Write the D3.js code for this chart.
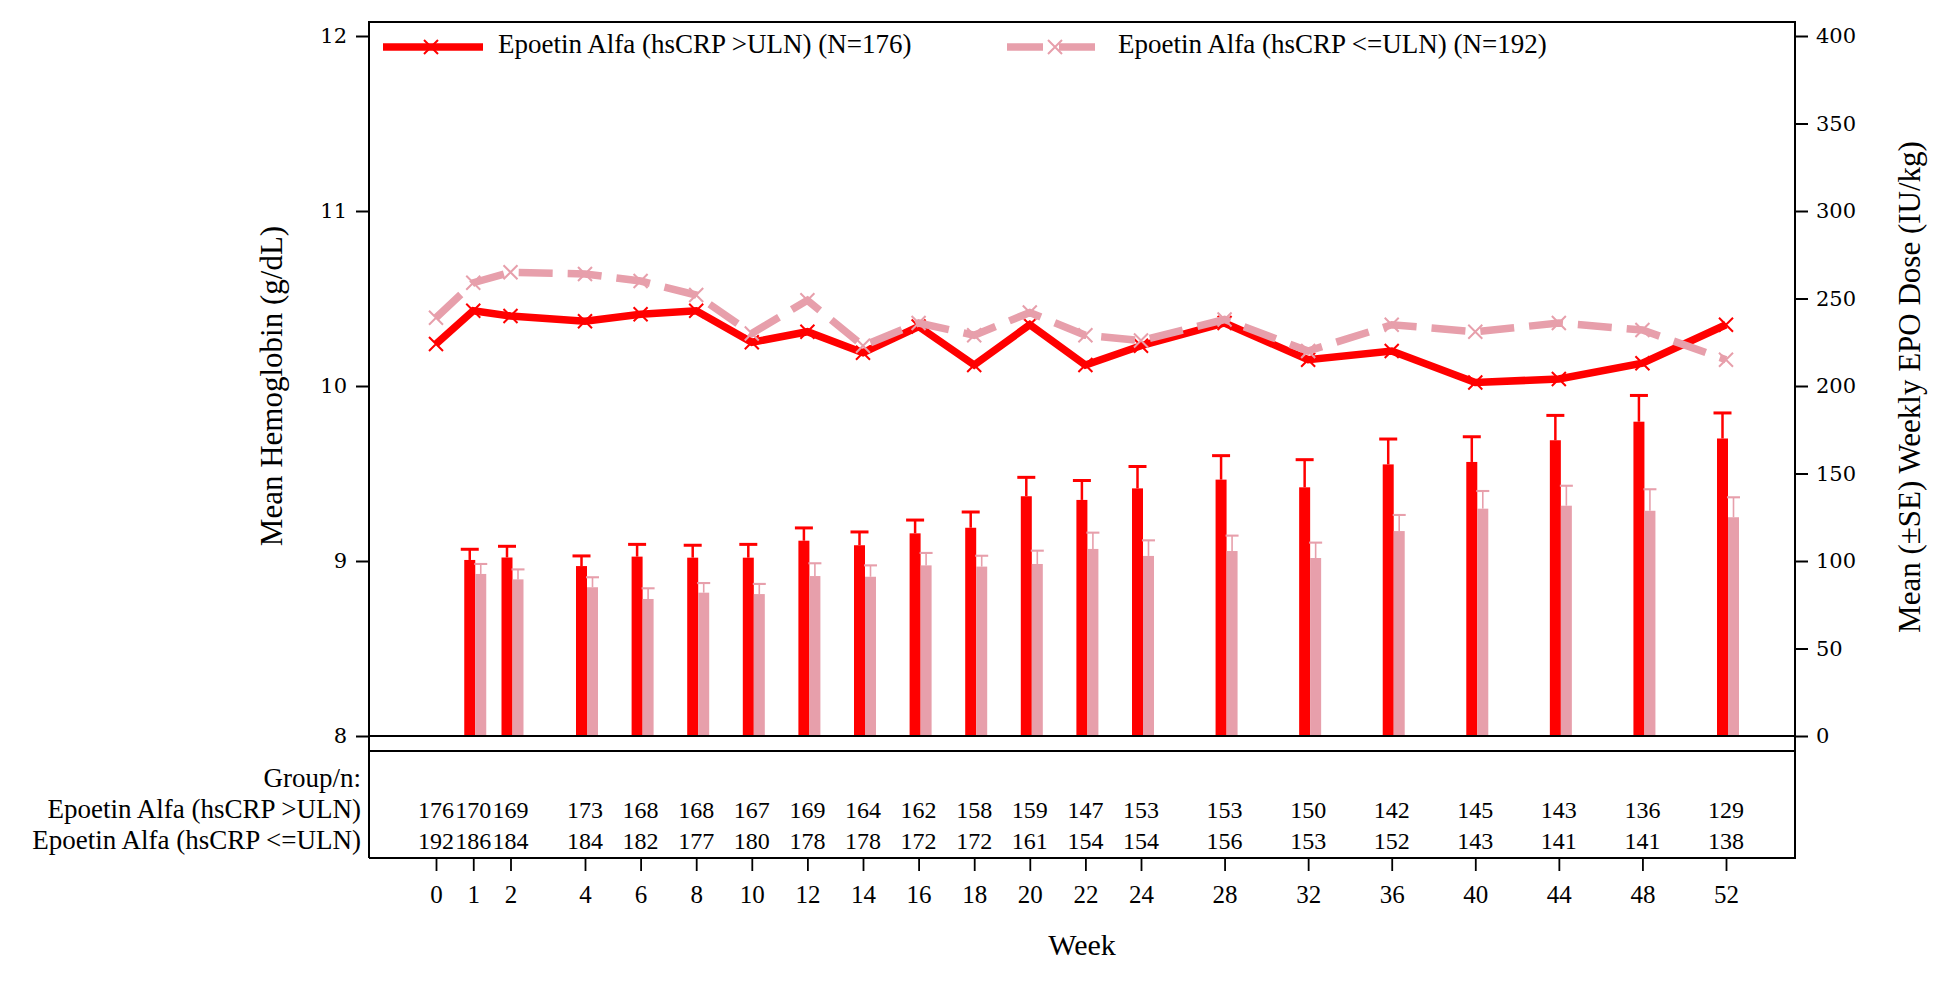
<!DOCTYPE html>
<html>
<head>
<meta charset="utf-8">
<script src="https://cdn.jsdelivr.net/npm/d3@7"></script>
<style>
  body { margin: 0; background: #fff; }
  svg text { font-family: "Liberation Serif", Tinos, "Times New Roman", "DejaVu Serif", "Noto Serif", serif; fill: #000; }
  svg .num text, svg text.num { font-family: "DejaVu Serif", "Liberation Serif", serif; }
</style>
</head>
<body>
<div id="chart"></div>
<script>
// weeks on the x axis
const weeks = [0, 1, 2, 4, 6, 8, 10, 12, 14, 16, 18, 20, 22, 24, 28, 32, 36, 40, 44, 48, 52]

// mean hemoglobin (g/dL), left axis
const hbHigh = [10.24, 10.43, 10.40, 10.37, 10.41, 10.43, 10.25, 10.31, 10.19, 10.34, 10.12, 10.35, 10.12, 10.23, 10.36, 10.15, 10.20, 10.02, 10.04, 10.13, 10.35]
const hbLow = [10.39, 10.59, 10.65, 10.64, 10.60, 10.52, 10.30, 10.49, 10.23, 10.36, 10.29, 10.42, 10.29, 10.26, 10.38, 10.20, 10.35, 10.31, 10.36, 10.32, 10.15]

// mean weekly EPO dose (IU/kg) and SE, right axis
const doseWeeks = [1, 2, 4, 6, 8, 10, 12, 14, 16, 18, 20, 22, 24, 28, 32, 36, 40, 44, 48, 52]
const doseHigh = [100.6, 102, 97.1, 102.5, 101.9, 101.9, 111.6, 109, 115.8, 119, 137, 134.9, 141.5, 146.5, 142.1, 155.2, 156.6, 169, 179.6, 170]
const doseHighSE = [6.1, 6.4, 5.8, 7, 7.1, 7.6, 7.3, 7.6, 7.6, 9, 10.8, 11.1, 12.5, 13.7, 15.8, 14.5, 14.4, 14.2, 15, 14.6]
const doseLow = [92.6, 89.5, 85, 78.3, 81.9, 81.1, 91.4, 91, 97.5, 96.8, 98.3, 106.9, 102.9, 105.7, 101.7, 117.1, 129.9, 131.6, 128.7, 125]
const doseLowSE = [5.7, 5.7, 5.7, 6.1, 5.5, 5.8, 7.3, 6.5, 7.1, 6.2, 7.6, 9.3, 8.9, 8.8, 8.8, 9.2, 10.1, 11.4, 12.3, 11.4]

// patients at risk
const nHigh = [176, 170, 169, 173, 168, 168, 167, 169, 164, 162, 158, 159, 147, 153, 153, 150, 142, 145, 143, 136, 129]
const nLow = [192, 186, 184, 184, 182, 177, 180, 178, 178, 172, 172, 161, 154, 154, 156, 153, 152, 143, 141, 141, 138]

const groups = ["Epoetin Alfa (hsCRP >ULN)", "Epoetin Alfa (hsCRP <=ULN)"]
const groupN = [176, 192]
const hbTicks = [8, 9, 10, 11, 12]
const doseTicks = [0, 50, 100, 150, 200, 250, 300, 350, 400]

const RED = "#ff0000"
const PINK = "#e79fab"
const SERIF = "'Liberation Serif', Tinos, 'Times New Roman', 'DejaVu Serif', serif"
const WIDE_SERIF = "'DejaVu Serif', 'Liberation Serif', serif"

const W = 1950, H = 988
const plotLeft = 369, plotRight = 1795, plotTop = 22, plotBottom = 736, tableTop = 751, tableBottom = 858

const svg = d3.select("#chart").append("svg")
    .attr("width", W)
    .attr("height", H)
    .attr("font-family", SERIF)
svg.append("rect").attr("width", W).attr("height", H).attr("fill", "#fff")

// x axis spacing in the figure is piecewise: wider for weeks 0-4, narrower later
const x = d3.scaleLinear()
    .domain([0, 4, 24, 52])
    .range([436, 585, 1141, 1726])

const yHb = d3.scaleLinear().domain([8, 12]).range([plotBottom, 36])
const yDose = d3.scaleLinear().domain([0, 400]).range([plotBottom, 36])

const offset = d3.scaleBand().domain(["high", "low"]).range([-9, 13])

// bars
const bars = svg.append("g")
const barData = [
    { key: "high", vals: doseHigh, se: doseHighSE, color: RED, cap: 18, sw: 2.5 },
    { key: "low", vals: doseLow, se: doseLowSE, color: PINK, cap: 13, sw: 1.6 }
]
barData.forEach(s => {
    const g = bars.append("g")
    doseWeeks.forEach((w, i) => {
        const x0 = x(w) + offset(s.key)
        const cx = x0 + offset.bandwidth() / 2
        const yTop = yDose(s.vals[i])
        const yErr = yDose(s.vals[i] + s.se[i])
        g.append("rect")
            .attr("x", x0)
            .attr("y", yTop)
            .attr("width", offset.bandwidth())
            .attr("height", plotBottom - yTop)
            .attr("fill", s.color)
        g.append("line")
            .attr("x1", cx).attr("x2", cx)
            .attr("y1", yTop).attr("y2", yErr)
            .attr("stroke", s.color).attr("stroke-width", s.sw)
        g.append("line")
            .attr("x1", cx - s.cap / 2).attr("x2", cx + s.cap / 2)
            .attr("y1", yErr).attr("y2", yErr)
            .attr("stroke", s.color).attr("stroke-width", s.sw + 0.5)
    })
})

// hemoglobin lines
const line = d3.line()
    .x(d => x(d.w))
    .y(d => yHb(d.v))
const xMark = "M-7,-7L7,7M-7,7L7,-7"

const lineData = [
    { vals: hbHigh, color: RED, dash: null },
    { vals: hbLow, color: PINK, dash: "34,15" }
]
lineData.forEach(s => {
    const pts = weeks.map((w, i) => ({ w: w, v: s.vals[i] }))
    svg.append("path")
        .datum(pts)
        .attr("fill", "none")
        .attr("stroke", s.color)
        .attr("stroke-width", 7.5)
        .attr("stroke-dasharray", s.dash)
        .attr("d", line)
    svg.append("g").selectAll("path")
        .data(pts)
        .join("path")
        .attr("transform", d => `translate(${x(d.w)},${yHb(d.v)})`)
        .attr("d", xMark)
        .attr("fill", "none")
        .attr("stroke", s.color)
        .attr("stroke-width", 2)
})

// frame
const frame = svg.append("g").attr("stroke", "#000").attr("stroke-width", 2).attr("fill", "none")
frame.append("path").attr("d", `M${plotLeft},${tableBottom}V${plotTop}H${plotRight}V${tableBottom}H${plotLeft}`)
frame.append("line").attr("x1", plotLeft).attr("x2", plotRight).attr("y1", plotBottom).attr("y2", plotBottom)
frame.append("line").attr("x1", plotLeft).attr("x2", plotRight).attr("y1", tableTop).attr("y2", tableTop)

// left axis
const axL = svg.append("g")
    .attr("transform", `translate(${plotLeft},0)`)
    .call(d3.axisLeft(yHb).tickValues(hbTicks).tickSize(13).tickPadding(9).tickFormat(d3.format("d")))
axL.attr("font-family", WIDE_SERIF).attr("font-size", 21)
axL.select(".domain").remove()
axL.selectAll("line").attr("stroke-width", 2)
axL.selectAll("text").attr("class", "num")

// right axis
const axR = svg.append("g")
    .attr("transform", `translate(${plotRight},0)`)
    .call(d3.axisRight(yDose).tickValues(doseTicks).tickSize(13).tickPadding(8).tickFormat(d3.format("d")))
axR.attr("font-family", WIDE_SERIF).attr("font-size", 21)
axR.select(".domain").remove()
axR.selectAll("line").attr("stroke-width", 2)
axR.selectAll("text").attr("class", "num")

// bottom axis
const axB = svg.append("g")
    .attr("transform", `translate(0,${tableBottom})`)
    .call(d3.axisBottom(x).tickValues(weeks).tickSize(13).tickPadding(14).tickFormat(d3.format("d")))
axB.attr("font-family", SERIF).attr("font-size", 25)
axB.select(".domain").remove()
axB.selectAll("line").attr("stroke-width", 1.8)

// axis titles
svg.append("text")
    .attr("transform", `translate(275,386) rotate(-90)`)
    .attr("text-anchor", "middle")
    .attr("dominant-baseline", "middle")
    .attr("font-size", 31)
    .text("Mean Hemoglobin (g/dL)")
svg.append("text")
    .attr("transform", `translate(1913,387) rotate(-90)`)
    .attr("text-anchor", "middle")
    .attr("dominant-baseline", "middle")
    .attr("font-size", 31)
    .text("Mean (\u00B1SE) Weekly EPO Dose (IU/kg)")
svg.append("text")
    .attr("x", (plotLeft + plotRight) / 2)
    .attr("y", 948)
    .attr("text-anchor", "middle")
    .attr("dominant-baseline", "middle")
    .attr("font-size", 30)
    .text("Week")

// at-risk table
svg.append("text")
    .attr("x", 361).attr("y", 781)
    .attr("text-anchor", "end").attr("dominant-baseline", "middle")
    .attr("font-size", 27)
    .text("Group/n:")
const rows = [{ name: groups[0], n: nHigh, y: 812 }, { name: groups[1], n: nLow, y: 843 }]
rows.forEach(r => {
    svg.append("text")
        .attr("x", 361).attr("y", r.y)
        .attr("text-anchor", "end").attr("dominant-baseline", "middle")
        .attr("font-size", 27)
        .text(r.name)
    svg.append("g").selectAll("text")
        .data(weeks)
        .join("text")
        .attr("x", d => x(d))
        .attr("y", r.y)
        .attr("text-anchor", "middle").attr("dominant-baseline", "middle")
        .attr("font-size", 24)
        .text((d, i) => r.n[i])
})

// legend
const legend = svg.append("g")
const legItems = [
    { x0: 383, color: RED, dash: null, tx: 498 },
    { x0: 1007, color: PINK, dash: "36,16", tx: 1118 }
]
legItems.forEach((l, i) => {
    const g = legend.append("g").attr("transform", `translate(${l.x0},47)`)
    g.append("line")
        .attr("x1", 0).attr("x2", 100)
        .attr("stroke", l.color).attr("stroke-width", 7.5)
        .attr("stroke-dasharray", l.dash)
    g.append("path")
        .attr("transform", "translate(48,0)")
        .attr("d", xMark)
        .attr("fill", "none").attr("stroke", l.color).attr("stroke-width", 2)
    legend.append("text")
        .attr("x", l.tx).attr("y", 47)
        .attr("dominant-baseline", "middle")
        .attr("font-size", 27)
        .text(`${groups[i]} (N=${groupN[i]})`)
})
</script>
</body>
</html>
